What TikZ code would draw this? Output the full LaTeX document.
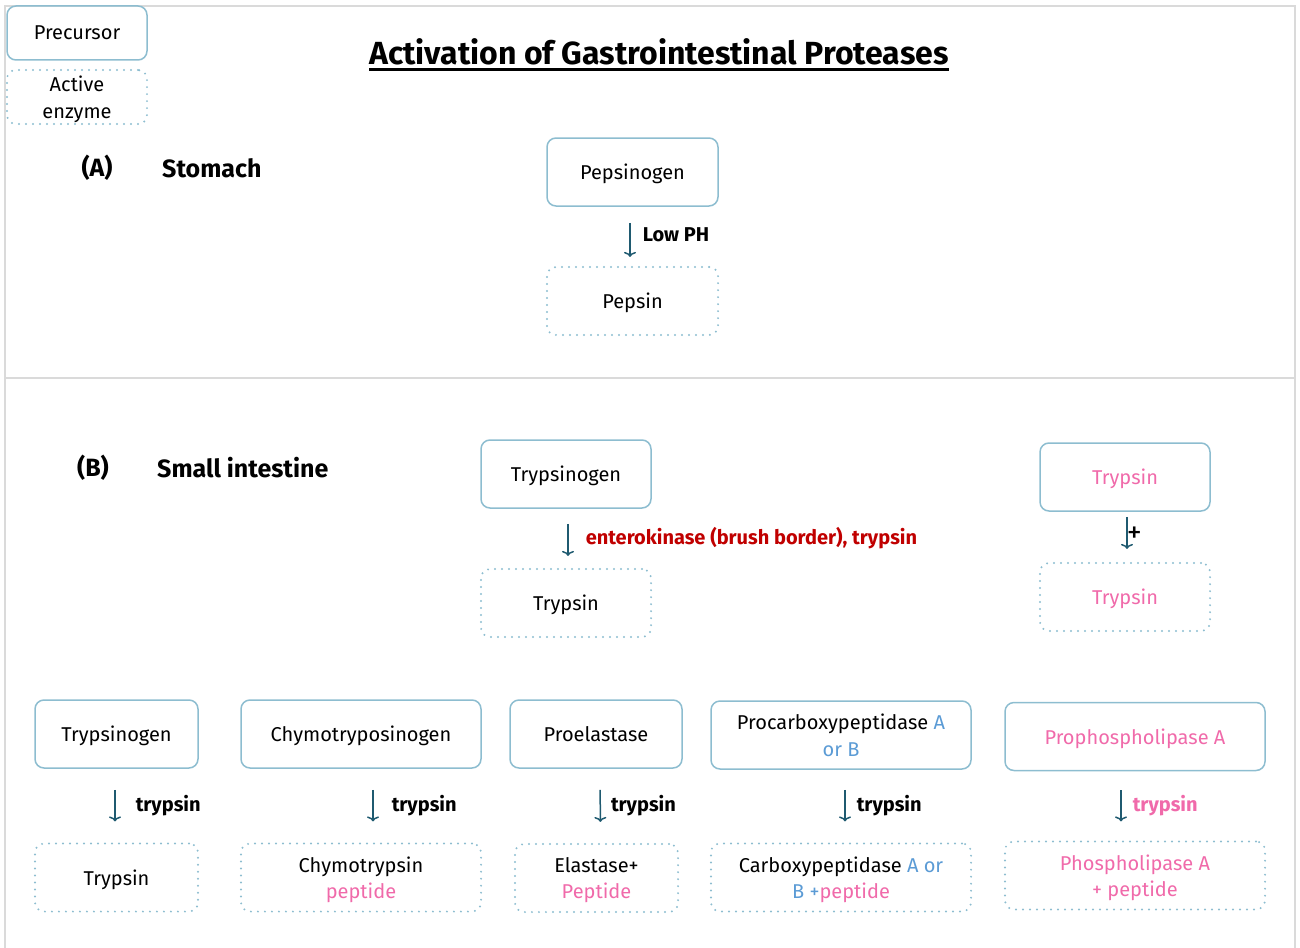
\documentclass[tikz,border=0pt]{standalone}
\usepackage{fontspec}
\setmainfont{Fira Sans}
\usetikzlibrary{arrows.meta}

\definecolor{boxblue}{HTML}{8DBDD0}
\definecolor{arrteal}{HTML}{1F5A70}
\definecolor{pinktxt}{HTML}{F06AAA}
\definecolor{bluetxt}{HTML}{5B9BD5}
\definecolor{redtxt}{HTML}{C00000}
\definecolor{framegray}{HTML}{DADADA}

\newcommand{\pk}[1]{\textcolor{pinktxt}{#1}}
\newcommand{\bl}[1]{\textcolor{bluetxt}{#1}}

\tikzset{
  precursor/.style={draw=boxblue, line width=1.5pt, rounded corners=9pt,
    minimum height=68pt, align=center, inner sep=2pt, text depth=0pt,
    font=\fontsize{20}{26.5}\selectfont},
  enzyme/.style={precursor, dash pattern=on 0pt off 7pt, line cap=round, line width=2.2pt},
  convert/.style={-{To[length=5pt,width=12pt]}, draw=arrteal, line width=1.5pt},
  agent/.style={font=\bfseries\fontsize{20}{24}\selectfont, anchor=west, inner sep=0pt},
  section/.style={font=\bfseries\fontsize{25}{28}\selectfont, inner sep=0pt}
}

\begin{document}
\begin{tikzpicture}[x=1pt, y=-1pt]
  \useasboundingbox (0,0) rectangle (1300,947);
  % frame and divider
  \draw[framegray, line width=1.5pt] (5,6) rectangle (1295,960);
  \draw[framegray, line width=1.5pt] (5,378) -- (1295,378);

  % legend
  \node[precursor, minimum width=140pt, minimum height=54pt] (legpre) at (77,33) {Precursor};
  \node[enzyme, minimum width=140pt, minimum height=54pt] (legact) at (77,97) {Active\\enzyme};

  % title
  \node[font=\bfseries\fontsize{32}{36}\selectfont, inner sep=0pt] (title) at (659,52) {Activation of Gastrointestinal Proteases};
  \draw[line width=2.5pt] ([yshift=-5pt]title.base west) -- ([yshift=-5pt]title.base east);

  % (A) stomach
  \node[section] (seca) at (97,168) {(A)};
  \node[section, anchor=west] (stomach) at (162,168) {Stomach};
  \node[precursor, minimum width=171pt] (pepsinogen) at (632.5,172) {Pepsinogen};
  \node[enzyme, minimum width=171pt] (pepsin) at (632.5,301) {Pepsin};
  \draw[convert, shorten <=16pt, shorten >=9pt] ([xshift=-2.5pt]pepsinogen.south) -- ([xshift=-2.5pt]pepsin.north)
    node[agent, midway, xshift=12pt, yshift=2pt] {Low PH};

  % (B) small intestine
  \node[section] (secb) at (93,468) {(B)};
  \node[section, anchor=west] (intestine) at (157,468) {Small intestine};
  \node[precursor, minimum width=170pt] (trypsinogen) at (566,474) {Trypsinogen};
  \node[enzyme, minimum width=170pt] (trypsin) at (566,603) {Trypsin};
  \draw[convert, shorten <=15pt, shorten >=12pt] ([xshift=2pt]trypsinogen.south) -- ([xshift=2pt]trypsin.north)
    node[agent, midway, xshift=17pt, text=redtxt] {enterokinase (brush border), trypsin};

  \node[precursor, minimum width=170pt, text=pinktxt] (trypsinA) at (1125,477) {Trypsin};
  \node[enzyme, minimum width=170pt, text=pinktxt] (trypsinB) at (1125,597) {Trypsin};
  \draw[convert, shorten <=5pt, shorten >=13pt] ([xshift=2pt]trypsinA.south) -- ([xshift=2pt]trypsinB.north)
    node[pos=0.45, anchor=west, inner sep=0pt, xshift=-1pt, font=\fontsize{30}{30}\selectfont] {+};

  % zymogens
  \node[precursor, minimum width=163pt] (pretryp) at (116.5,734) {Trypsinogen};
  \node[precursor, minimum width=240pt] (prechymo) at (361,734) {Chymotryposinogen};
  \node[precursor, minimum width=172pt] (preelast) at (596,734) {Proelastase};
  \node[precursor, minimum width=260pt] (precarb) at (841,735) {Procarboxypeptidase \bl{A}\\\bl{or B}};
  \node[precursor, minimum width=260pt, text=pinktxt] (prephos) at (1135,736.5) {Prophospholipase A};

  % active enzymes
  \node[enzyme, minimum width=163pt] (acttryp) at (116.5,877.5) {Trypsin};
  \node[enzyme, minimum width=240pt] (actchymo) at (361,877.5) {Chymotrypsin\\\pk{peptide}};
  \node[enzyme, minimum width=163pt] (actelast) at (596.5,878) {Elastase+\\\pk{Peptide}};
  \node[enzyme, minimum width=260pt] (actcarb) at (841,877.5) {Carboxypeptidase \bl{A or}\\\bl{B +}\pk{peptide}};
  \node[enzyme, minimum width=260pt, text=pinktxt] (actphos) at (1135,875.5) {Phospholipase A\\+ peptide};

  % trypsin cleavage
  \draw[convert, shorten <=21pt, shorten >=21pt] ([xshift=-1.5pt]pretryp.south) -- ([xshift=-1.5pt]acttryp.north)
    node[agent, midway, xshift=20pt] {trypsin};
  \draw[convert, shorten <=21pt, shorten >=21pt] ([xshift=12pt]prechymo.south) -- ([xshift=12pt]actchymo.north)
    node[agent, midway, xshift=18pt] {trypsin};
  \draw[convert, shorten <=21pt, shorten >=21pt] ([xshift=4pt]preelast.south) -- ([xshift=4pt]actelast.north)
    node[agent, midway, xshift=10pt] {trypsin};
  \draw[convert, shorten <=20pt, shorten >=21pt] ([xshift=4pt]precarb.south) -- ([xshift=4pt]actcarb.north)
    node[agent, midway, xshift=11pt] {trypsin};
  \draw[convert, shorten <=19pt, shorten >=19pt] ([xshift=-14pt]prephos.south) -- ([xshift=-14pt]actphos.north)
    node[agent, midway, xshift=11pt, text=pinktxt] {trypsin};
\end{tikzpicture}
\end{document}
